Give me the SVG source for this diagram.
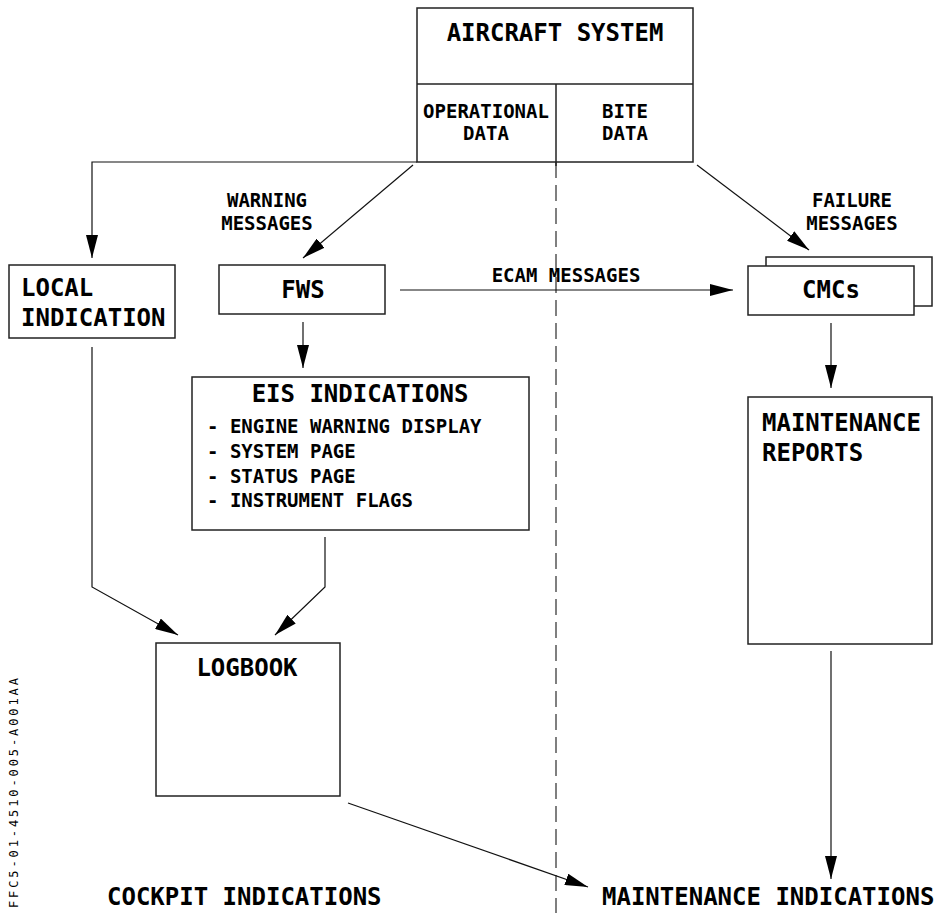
<svg xmlns="http://www.w3.org/2000/svg" width="934" height="913" viewBox="0 0 934 913">
<style>
text{font-family:"DejaVu Sans Mono","Liberation Mono",monospace;font-weight:bold;fill:#000}
.b{font-size:24px}
.s{font-size:19px}
.c{text-anchor:middle}
.box{fill:#fff;stroke:#222;stroke-width:1.5}
.ln{fill:none;stroke:#111;stroke-width:1.2}
.dash{fill:none;stroke:#555;stroke-width:1.5;stroke-dasharray:16 7}
.id{font-size:12px;font-weight:normal;letter-spacing:2.9px}
</style>
<defs>
<marker id="ah" markerUnits="userSpaceOnUse" markerWidth="23" markerHeight="12" refX="23" refY="6" orient="auto">
<path d="M0,0 L23,6 L0,12 z" fill="#000"/>
</marker>
</defs>
<rect width="934" height="913" fill="#fff"/>
<line class="dash" x1="556" y1="162" x2="556" y2="913"/>
<g id="aircraft-system">
<rect class="box" x="417" y="8" width="276" height="154"/>
<line x1="417" y1="84" x2="693" y2="84" stroke="#222" stroke-width="1.5"/>
<line x1="556" y1="84" x2="556" y2="166" stroke="#222" stroke-width="1.5"/>
<text class="b c" x="555" y="41">AIRCRAFT SYSTEM</text>
<text class="s c" x="486" y="118">OPERATIONAL</text>
<text class="s c" x="486" y="140">DATA</text>
<text class="s c" x="625" y="118">BITE</text>
<text class="s c" x="625" y="140">DATA</text>
</g>
<g id="local-indication">
<rect class="box" x="9" y="265" width="166" height="73"/>
<text class="b" x="21" y="296">LOCAL</text>
<text class="b" x="21" y="326">INDICATION</text>
</g>
<g id="fws">
<rect class="box" x="219" y="265" width="166" height="49"/>
<text class="b c" x="303" y="298">FWS</text>
</g>
<g id="cmcs">
<rect class="box" x="766" y="257" width="166" height="49"/>
<rect class="box" x="748" y="266" width="166" height="49"/>
<text class="b c" x="831" y="298">CMCs</text>
</g>
<g id="eis-indications">
<rect class="box" x="192" y="377" width="337" height="153"/>
<text class="b c" x="360" y="402">EIS INDICATIONS</text>
<text class="s" x="207" y="433">- ENGINE WARNING DISPLAY</text>
<text class="s" x="207" y="458">- SYSTEM PAGE</text>
<text class="s" x="207" y="483">- STATUS PAGE</text>
<text class="s" x="207" y="507">- INSTRUMENT FLAGS</text>
</g>
<g id="maintenance-reports">
<rect class="box" x="748" y="397" width="184" height="247"/>
<text class="b" x="762" y="431">MAINTENANCE</text>
<text class="b" x="762" y="461">REPORTS</text>
</g>
<g id="logbook">
<rect class="box" x="156" y="643" width="184" height="153"/>
<text class="b c" x="247" y="676">LOGBOOK</text>
</g>
<g id="connectors">
<path class="ln" d="M417,162 H92 V258" marker-end="url(#ah)"/>
<path class="ln" d="M413,165 L303,258" marker-end="url(#ah)"/>
<path class="ln" d="M697,165 L809,250" marker-end="url(#ah)"/>
<path class="ln" d="M400,290 H733" marker-end="url(#ah)"/>
<path class="ln" d="M303,322 V368" marker-end="url(#ah)"/>
<path class="ln" d="M831,323 V388" marker-end="url(#ah)"/>
<path class="ln" d="M92,347 V587 L178,635" marker-end="url(#ah)"/>
<path class="ln" d="M325,537 V587 L275,635" marker-end="url(#ah)"/>
<path class="ln" d="M348,803 L588,887" marker-end="url(#ah)"/>
<path class="ln" d="M831,651 V879" marker-end="url(#ah)"/>
</g>
<g id="labels">
<text class="s c" x="267" y="207">WARNING</text>
<text class="s c" x="267" y="230">MESSAGES</text>
<text class="s c" x="852" y="207">FAILURE</text>
<text class="s c" x="852" y="230">MESSAGES</text>
<text class="s c" x="566" y="282">ECAM MESSAGES</text>
<text class="b" x="107" y="905">COCKPIT INDICATIONS</text>
<text class="b" x="602" y="905" font-size="23.5">MAINTENANCE INDICATIONS</text>
<text class="id" transform="translate(18,908) rotate(-90)" x="0" y="0">FFC5-01-4510-005-A001AA</text>
</g>
</svg>
